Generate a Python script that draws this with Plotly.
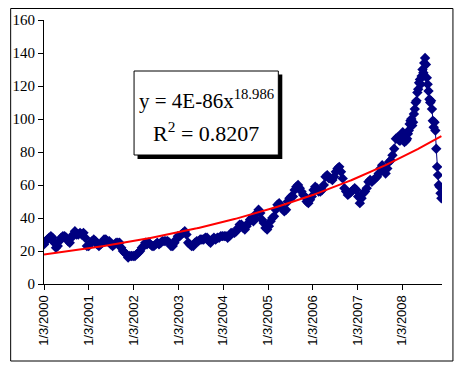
import numpy as np
import pandas as pd
import plotly.graph_objects as go

# ---- data ----
# biweekly values, 26 per year block, starting 2000-01-03
v2000 = [24, 26, 27, 28, 29, 28, 25, 22, 23, 26, 28, 29, 29, 28, 26, 25, 28, 30, 32, 30, 30, 31, 30, 31, 28, 23]
v2001 = [23, 25, 26, 27, 26, 24, 23, 24, 25, 27, 27, 26, 26, 24, 23, 24, 25, 25, 25, 22, 20, 19, 18, 16, 17, 17]
v2002 = [17, 17, 18, 19, 20, 22, 23, 25, 24, 25, 24, 23, 23, 24, 25, 24, 25, 26, 26, 26, 26, 25, 23, 23, 25, 27]
v2003 = [29, 29, 30, 31, 32, 30, 25, 24, 23, 23, 25, 26, 26, 27, 27, 27, 28, 28, 26, 25, 27, 28, 27, 28, 28, 29]
v2004 = [29, 29, 29, 28, 29, 31, 31, 31, 32, 34, 36, 36, 34, 33, 35, 37, 39, 40, 38, 40, 43, 45, 43, 39, 37, 34]
v2005 = [33, 35, 38, 40, 41, 45, 48, 49, 47, 46, 44, 45, 50, 52, 53, 53, 57, 59, 60, 58, 56, 54, 53, 50, 49, 51]
v2006 = [53, 57, 59, 58, 56, 56, 57, 60, 65, 66, 64, 64, 63, 65, 68, 70, 71, 68, 64, 58, 56, 54, 55, 56, 57, 58]
v2007 = [57, 53, 49, 52, 55, 56, 58, 62, 63, 62, 63, 64, 65, 67, 70, 72, 70, 67, 70, 74, 75, 78, 82, 88, 89, 87]
# weekly values from 2007-12-17 to 2008-11-17
v2008 = [87, 89, 91, 92, 89, 86, 88, 87, 88, 91, 93, 97, 99, 100, 96, 98, 103, 106, 110, 111,
         116, 118, 122, 124, 121, 126, 130, 128, 134, 137, 133, 125, 121, 117, 112, 110, 111, 106,
         99, 95, 98, 93, 82, 71, 66, 60, 59, 55, 52]

tick_labels = ["1/3/2000", "1/3/2001", "1/3/2002", "1/3/2003", "1/3/2004",
               "1/3/2005", "1/3/2006", "1/3/2007", "1/3/2008"]
tick_dates = ["2000-01-03", "2001-01-03", "2002-01-03", "2003-01-03", "2004-01-03",
              "2005-01-03", "2006-01-03", "2007-01-03", "2008-01-03"]
trend_exponent = 18.986
eq_text = "y = 4E-86x<sup>18.986</sup>"
r2_text = "R<sup>2</sup> = 0.8207"

biweekly = v2000 + v2001 + v2002 + v2003 + v2004 + v2005 + v2006 + v2007
d1 = pd.date_range("2000-01-03", periods=len(biweekly), freq="14D")
d2 = pd.date_range("2007-12-17", periods=len(v2008), freq="7D")
dates = d1.append(d2)
prices = np.array(biweekly + v2008, dtype=float)

# power trendline on Excel date serials, exponent from the chart's equation,
# coefficient fitted to the data
serial = (dates - pd.Timestamp("1899-12-30")).days.values.astype(float)
lna = np.mean(np.log(prices) - trend_exponent * np.log(serial))
trend = np.exp(lna + trend_exponent * np.log(serial))

fig = go.Figure()
fig.add_trace(go.Scatter(
    x=dates, y=prices, mode="lines+markers",
    line=dict(color="#000080", width=1),
    marker=dict(symbol="diamond", size=8, color="#000080", line=dict(width=0)),
    showlegend=False, hoverinfo="skip"))
fig.add_trace(go.Scatter(
    x=dates, y=trend, mode="lines",
    line=dict(color="#FF0000", width=2),
    showlegend=False, hoverinfo="skip"))

W, H = 463, 370
L, R, T, B = 42, 21, 20, 86
pw, ph = W - L - R, H - T - B

def px(x):
    return (x - L) / pw

def py(y):
    return (H - B - y) / ph

shapes = [
    # outer border
    dict(type="rect", xref="paper", yref="paper", x0=px(8.5), x1=px(453), y0=py(361), y1=py(8.5),
         line=dict(color="black", width=1), fillcolor="rgba(0,0,0,0)", layer="above"),
    # shadow of the equation box
    dict(type="rect", xref="paper", yref="paper", x0=px(136), x1=px(281.5), y0=py(159), y1=py(74.5),
         line=dict(width=0), fillcolor="black", layer="above"),
    # equation box
    dict(type="rect", xref="paper", yref="paper", x0=px(132.5), x1=px(277.5), y0=py(155), y1=py(71),
         line=dict(color="black", width=1), fillcolor="white", layer="above"),
]

annotations = [
    dict(text=eq_text, xref="paper", yref="paper", x=px(205.5), y=py(100), xanchor="center", yanchor="middle",
         showarrow=False, font=dict(family="Liberation Serif", size=21, color="black")),
    dict(text=r2_text, xref="paper", yref="paper", x=px(204.5), y=py(132), xanchor="center", yanchor="middle",
         showarrow=False, font=dict(family="Liberation Serif", size=22, color="black")),
]

fig.update_layout(
    width=W, height=H,
    margin=dict(l=L, r=R, t=T, b=B, pad=0),
    paper_bgcolor="white", plot_bgcolor="white",
    shapes=shapes, annotations=annotations,
    xaxis=dict(type="date", range=["2000-01-03", "2008-11-22"],
               tickvals=tick_dates, ticktext=tick_labels, tickangle=-90,
               showgrid=False, zeroline=False, showline=True, linecolor="black", linewidth=1,
               ticks="outside", ticklen=5, tickcolor="black",
               tickfont=dict(family="Liberation Sans", size=13, color="black")),
    yaxis=dict(range=[0, 160], tickvals=list(range(0, 161, 20)),
               showgrid=False, zeroline=False, showline=True, linecolor="black", linewidth=1,
               ticks="outside", ticklen=5, tickcolor="black",
               tickfont=dict(family="Liberation Serif", size=15, color="black")),
)

fig.write_html("out.html", config={"displayModeBar": False},
               post_script="document.body.style.margin='0';")
